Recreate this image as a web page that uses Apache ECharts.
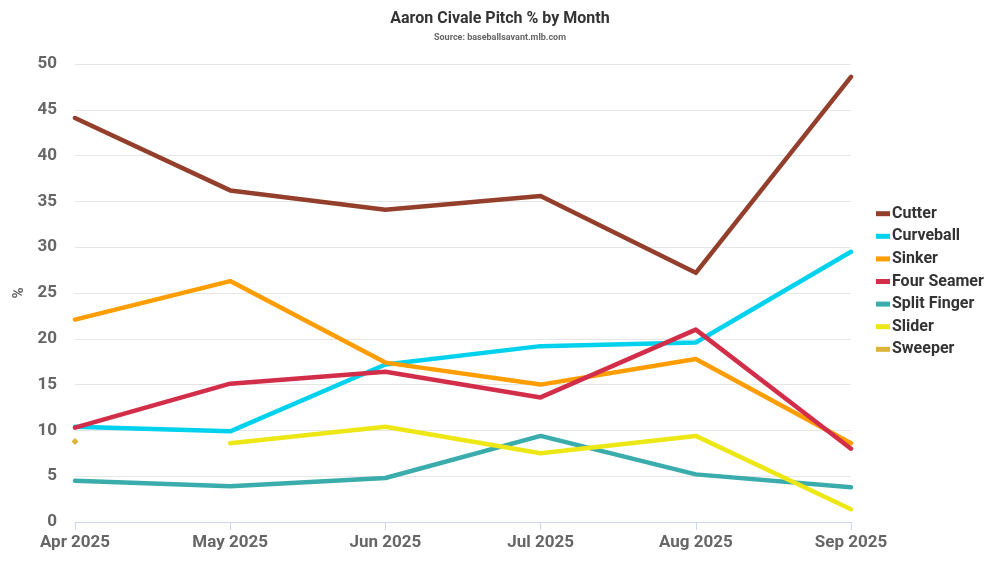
<!DOCTYPE html>
<html>
<head>
<meta charset="utf-8">
<script src="https://cdn.jsdelivr.net/npm/echarts@6/dist/echarts.min.js"></script>
<style>
  html, body { margin: 0; padding: 0; background: #fff; }
  #chart { width: 1000px; height: 563px; }
</style>
</head>
<body>
<div id="chart"></div>
<script>
const months = ['Apr 2025', 'May 2025', 'Jun 2025', 'Jul 2025', 'Aug 2025', 'Sep 2025'];

const cutter = [44.1, 36.2, 34.1, 35.6, 27.2, 48.6];
const curveball = [10.4, 9.9, 17.2, 19.2, 19.6, 29.5];
const sinker = [22.1, 26.3, 17.4, 15.0, 17.8, 8.6];
const fourSeamer = [10.3, 15.1, 16.4, 13.6, 21.0, 8.0];
const splitFinger = [4.5, 3.9, 4.8, 9.4, 5.2, 3.8];
const slider = [null, 8.6, 10.4, 7.5, 9.4, 1.4];
const sweeper = [8.8, null, null, null, null, null];

const pitches = [
  { name: 'Cutter', data: cutter, color: '#933f2c' },
  { name: 'Curveball', data: curveball, color: '#00d1ed' },
  { name: 'Sinker', data: sinker, color: '#fe9d00' },
  { name: 'Four Seamer', data: fourSeamer, color: '#d22d49' },
  { name: 'Split Finger', data: splitFinger, color: '#3bacac' },
  { name: 'Slider', data: slider, color: '#eee716' },
  { name: 'Sweeper', data: sweeper, color: '#ddb33a' }
];

const chart = echarts.init(document.getElementById('chart'));
const font = 'Roboto';

chart.setOption({
  animation: false,
  title: {
    text: 'Aaron Civale Pitch % by Month',
    subtext: 'Source: baseballsavant.mlb.com',
    left: 'center',
    top: 6,
    itemGap: 6,
    textStyle: { fontFamily: font, fontSize: 16, fontWeight: 'bold', color: '#333' },
    subtextStyle: { fontFamily: font, fontSize: 9, fontWeight: 'bold', color: '#666' }
  },
  legend: {
    orient: 'vertical',
    left: 871,
    top: 'middle',
    icon: 'rect',
    itemWidth: 14,
    itemHeight: 5,
    itemGap: 6.6,
    textStyle: { fontFamily: font, fontSize: 16, fontWeight: 'bold', color: '#333', padding: [0, 0, 0, -3] },
    data: pitches.map(p => p.name)
  },
  grid: { left: 75, right: 149, top: 64, bottom: 41 },
  xAxis: {
    type: 'category',
    data: months,
    boundaryGap: false,
    axisLine: { lineStyle: { color: '#ccd6eb' } },
    axisTick: { show: true, length: 8, lineStyle: { color: '#ccd6eb' } },
    axisLabel: { fontFamily: font, fontSize: 17, fontWeight: 'bold', color: '#666', margin: 12 },
    splitLine: { show: false }
  },
  yAxis: {
    type: 'value',
    min: 0,
    max: 50,
    interval: 5,
    name: '%',
    nameLocation: 'middle',
    nameGap: 48,
    nameTextStyle: { fontFamily: font, fontSize: 15, fontWeight: 'bold', color: '#666' },
    axisLine: { show: false },
    axisTick: { show: false },
    axisLabel: { fontFamily: font, fontSize: 17, fontWeight: 'bold', color: '#666', margin: 18 },
    splitLine: { lineStyle: { color: '#e6e6e6' } }
  },
  series: pitches.map(p => ({
    name: p.name,
    type: 'line',
    data: p.data,
    color: p.color,
    showSymbol: p.name === 'Sweeper',
    symbol: 'diamond',
    symbolSize: 7,
    lineStyle: { width: 4.5, cap: 'round', join: 'round' },
    emphasis: { disabled: true }
  }))
});
</script>
</body>
</html>
